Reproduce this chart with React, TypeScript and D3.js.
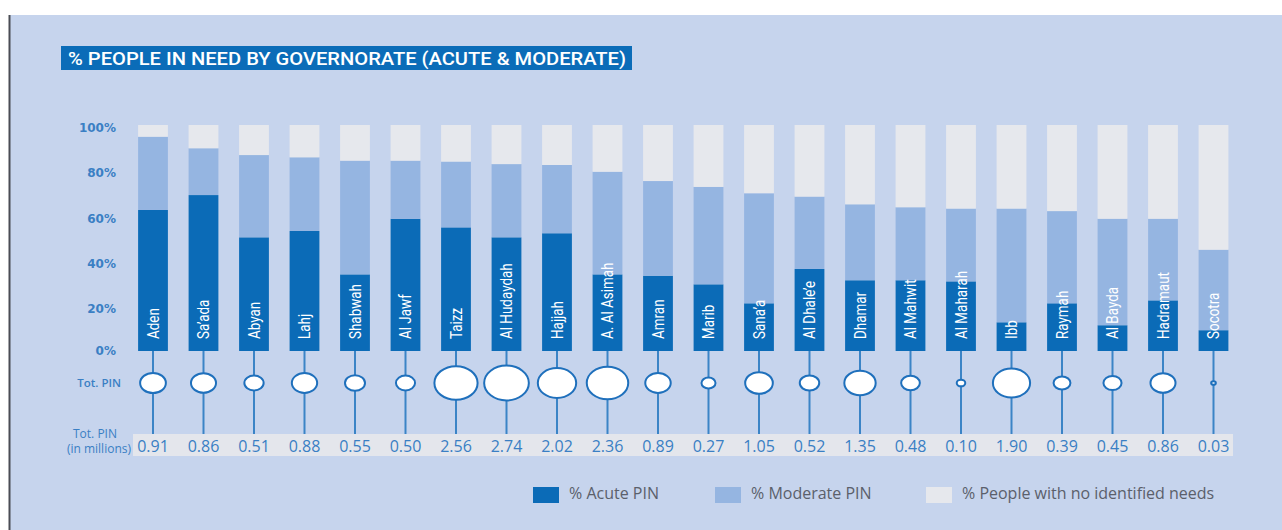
import React from "react";
import * as d3 from "d3";

const governorates = [
  "Aden", "Sa\u2019ada", "Abyan", "Lahj", "Shabwah", "Al Jawf", "Taizz", "Al Hudaydah",
  "Hajjah", "A. Al Asimah", "Amran", "Marib", "Sana\u2019a", "Al Dhale\u2019e", "Dhamar",
  "Al Mahwit", "Al Maharah", "Ibb", "Raymah", "Al Bayda", "Hadramaut", "Socotra",
];
const acutePct = [62.4, 69.0, 50.3, 53.1, 33.9, 58.5, 54.7, 50.3, 52.1, 33.9, 33.3, 29.5, 21.1, 36.3, 31.3, 31.3, 30.8, 12.7, 21.1, 11.4, 22.4, 9.2];
const moderatePct = [32.4, 20.7, 36.4, 32.6, 50.3, 25.7, 29.1, 32.4, 30.2, 45.4, 41.9, 43.1, 48.7, 32.0, 33.6, 32.3, 32.2, 50.3, 40.8, 47.1, 36.1, 35.6];
const noNeedPct = [5.2, 10.3, 13.3, 14.3, 15.8, 15.8, 16.2, 17.3, 17.7, 20.7, 24.8, 27.4, 30.2, 31.7, 35.1, 36.4, 37.0, 37.0, 38.1, 41.5, 41.5, 55.2];
const totalPin = [0.91, 0.86, 0.51, 0.88, 0.55, 0.50, 2.56, 2.74, 2.02, 2.36, 0.89, 0.27, 1.05, 0.52, 1.35, 0.48, 0.10, 1.90, 0.39, 0.45, 0.86, 0.03];
const yTicks = [0, 20, 40, 60, 80, 100];
const seriesKeys = ["acute", "moderate", "none"];
const seriesLabels = ["% Acute PIN", "% Moderate PIN", "% People with no identified needs"];
const title = "% PEOPLE IN NEED BY GOVERNORATE (ACUTE & MODERATE)";

const COLORS: Record<string, string> = {
  acute: "#0b6bb7",
  moderate: "#95b5e1",
  none: "#e6e8ed",
};
const BG = "#c6d4ed";
const BLUE_TEXT = "#3a7fc4";

export default function App() {
  const W = 1282;
  const H = 530;

  const rows = governorates.map((g, i) => ({
    name: g,
    acute: acutePct[i],
    moderate: moderatePct[i],
    none: noNeedPct[i],
    pin: totalPin[i],
  }));

  const x = d3
    .scaleBand<string>()
    .domain(governorates)
    .range([127.75, 1238.75])
    .paddingInner(0.41)
    .paddingOuter(0.205);
  const y = d3.scaleLinear().domain([0, 100]).range([351, 125]);
  const r = d3.scaleSqrt().domain([0, 1]).range([0, 13.5]);

  const stack = d3.stack<any>().keys(seriesKeys);
  const stacked = stack(rows);

  const bw = x.bandwidth();
  const cx = (n: string) => (x(n) as number) + bw / 2;
  const circleY = 383;

  const legendX = [533, 715, 926];

  return (
    <svg
      width={W}
      height={H}
      style={{ position: "absolute", left: 0, top: 0, display: "block" }}
    >
      <rect x={0} y={0} width={W} height={H} fill="#ffffff" />
      <rect x={10} y={15} width={W - 10} height={H - 15} fill={BG} />
      <rect x={8.5} y={15} width={2} height={H - 15} fill="#4a4d55" />

      {/* title */}
      <rect x={61} y={46} width={571} height={24} fill="#0b6cb8" />
      <text
        x={68}
        y={65}
        fill="#ffffff"
        fontFamily="Roboto, 'Open Sans', sans-serif"
        fontWeight={500}
        fontSize={19}
        textLength={558}
        lengthAdjust="spacingAndGlyphs"
      >
        {title}
      </text>

      {/* y tick labels */}
      {yTicks.map((t) => (
        <text
          key={t}
          x={116}
          y={y(t) + (t === 0 ? 0 : 3)}
          dy="0.35em"
          textAnchor="end"
          fill={BLUE_TEXT}
          fontFamily="'DejaVu Sans', sans-serif"
          fontWeight="bold"
          fontSize={12}
        >
          {t}%
        </text>
      ))}

      {/* stems */}
      {rows.map((d) => (
        <line
          key={"stem" + d.name}
          x1={cx(d.name)}
          x2={cx(d.name)}
          y1={351}
          y2={434}
          stroke="#3b84c6"
          strokeWidth={2}
        />
      ))}

      {/* bars */}
      {stacked.map((s) => (
        <g key={s.key} fill={COLORS[s.key]}>
          {s.map((seg, i) => (
            <rect
              key={i}
              x={x(rows[i].name)}
              y={y(seg[1])}
              width={bw}
              height={y(seg[0]) - y(seg[1])}
            />
          ))}
        </g>
      ))}

      {/* names in bars */}
      {rows.map((d) => (
        <text
          key={"lbl" + d.name}
          transform={`translate(${cx(d.name)},339) rotate(-90) scale(0.84,1)`}
          dy="0.36em"
          fill="#ffffff"
          fontFamily="Roboto, sans-serif"
          fontSize={16}
        >
          {d.name}
        </text>
      ))}

      {/* Tot. PIN label */}
      <text
        x={121}
        y={circleY}
        dy="0.35em"
        textAnchor="end"
        fill={BLUE_TEXT}
        fontFamily="'Open Sans', sans-serif"
        fontWeight={600}
        fontSize={11.5}
      >
        Tot. PIN
      </text>

      {/* bubbles */}
      {rows.map((d) => {
        const rx = r(d.pin);
        return (
          <ellipse
            key={"b" + d.name}
            cx={cx(d.name)}
            cy={circleY}
            rx={rx}
            ry={rx * 0.78}
            fill="#ffffff"
            stroke="#1f70bc"
            strokeWidth={2}
          />
        );
      })}

      {/* values band */}
      <rect x={133} y={434} width={1100} height={22} fill="#e4e6ec" />
      <text
        x={95}
        y={438}
        textAnchor="middle"
        fill={BLUE_TEXT}
        fontFamily="'Open Sans', sans-serif"
        fontSize={12}
      >
        Tot. PIN
      </text>
      <text
        x={131}
        y={453}
        textAnchor="end"
        fill={BLUE_TEXT}
        fontFamily="'Open Sans', sans-serif"
        fontSize={12}
      >
        (in millions)
      </text>
      {rows.map((d) => (
        <text
          key={"v" + d.name}
          x={cx(d.name)}
          y={446}
          dy="0.36em"
          textAnchor="middle"
          fill={BLUE_TEXT}
          fontFamily="'Open Sans', sans-serif"
          fontSize={16}
        >
          {d3.format(".2f")(d.pin)}
        </text>
      ))}

      {/* legend */}
      {seriesKeys.map((k, i) => (
        <g key={"lg" + k} transform={`translate(${legendX[i]},487)`}>
          <rect x={0} y={0} width={26} height={16} fill={COLORS[k]} />
          <text
            x={36}
            y={6}
            dy="0.35em"
            fill="#5b606b"
            fontFamily="'Open Sans', sans-serif"
            fontSize={16}
          >
            {seriesLabels[i]}
          </text>
        </g>
      ))}
    </svg>
  );
}
